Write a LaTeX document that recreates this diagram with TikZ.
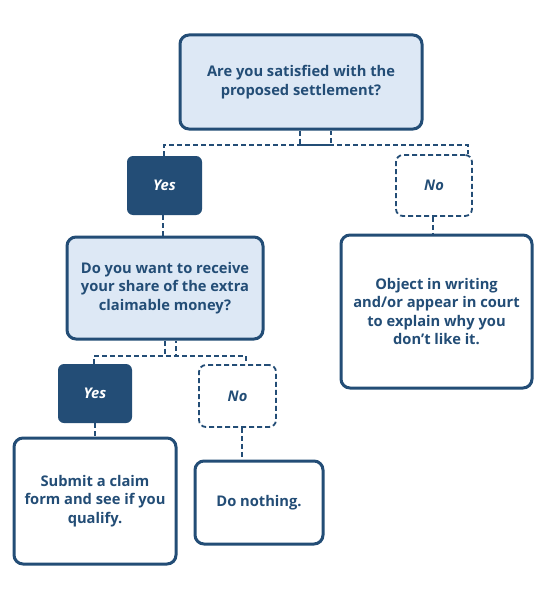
\documentclass[tikz,border=0pt]{standalone}
\usepackage{fontspec}
\setmainfont{Open Sans}
\definecolor{navy}{HTML}{234D76}
\definecolor{pale}{HTML}{DDE8F5}
\begin{document}
\begin{tikzpicture}[x=1pt,y=-1pt,
  every node/.style={font=\fontsize{14.7}{18.3}\selectfont\bfseries, text=navy, align=center, inner sep=0pt},
  qbox/.style={draw=navy, line width=3pt, fill=pale, rounded corners=9pt},
  abox/.style={draw=navy, line width=3pt, fill=white, rounded corners=9pt},
  yesbox/.style={fill=navy, rounded corners=6pt, text=white, font=\fontsize{14.7}{18.3}\selectfont\bfseries\itshape},
  nobox/.style={draw=navy, line width=1.8pt, dash pattern=on 5pt off 3pt, fill=white, rounded corners=7pt, font=\fontsize{14.7}{18.3}\selectfont\bfseries\itshape},
  link/.style={draw=navy, line width=1.8pt, dash pattern=on 5pt off 3pt}
]
\useasboundingbox (0,0) rectangle (551,599);
\fill[white] (0,0) rectangle (551,599);

\node[qbox, minimum width=242pt, minimum height=94pt] (q1) at (301,82) {Are you satisfied with the\\proposed settlement?};
\node[yesbox, minimum width=75pt, minimum height=59pt] (yes1) at (164.5,185.5) {Yes};
\node[nobox, minimum width=76pt, minimum height=61pt] (no1) at (434,185.5) {No};
\node[abox, minimum width=191pt, minimum height=153pt] (obj) at (436.5,311.5) {Object in writing\\and/or appear in court\\to explain why you\\don{\char"27}t like it.};
\node[qbox, minimum width=196pt, minimum height=102pt] (q2) at (165,288) {Do you want to receive\\your share of the extra\\claimable money?};
\node[yesbox, minimum width=74pt, minimum height=59pt] (yes2) at (95,393.5) {Yes};
\node[nobox, minimum width=77pt, minimum height=62pt] (no2) at (237.5,396) {No};
\node[abox, minimum width=162pt, minimum height=126pt] (sub) at (95,501) {Submit a claim\\form and see if you\\qualify.};
\node[abox, minimum width=128pt, minimum height=83pt] (dn) at (259,502.5) {Do nothing.};

% top split
\coordinate (a1) at (300,145);
\coordinate (a2) at (331,145);
\coordinate (aL) at (164,145);
\coordinate (aR) at (468,145);
\draw[link] (q1.south -| a1) -- (a1) -- (a2) -- (q1.south -| a2);
\draw[link] (aL |- yes1.north) -- (aL) -- (aR) -- (aR |- no1.north);
\draw[link] ([xshift=-1.5pt]yes1.south) -- ([xshift=-1.5pt]yes1.south |- q2.north);
\draw[link] ([xshift=-1pt]no1.south) -- ([xshift=-1pt]no1.south |- obj.north);

% second split
\coordinate (b1) at (165,356);
\coordinate (b2) at (176,356);
\coordinate (bL) at (94,356);
\coordinate (bR) at (246,356);
\draw[link] (q2.south -| b1) -- (b1) -- (b2) -- (q2.south -| b2);
\draw[link] (bL |- yes2.north) -- (bL) -- (bR) -- (bR |- no2.north);
\draw[link] (yes2.south) -- (yes2.south |- sub.north);
\coordinate (c2) at (242,430);
\draw[link] (c2 |- no2.south) -- (c2 |- dn.north);
\end{tikzpicture}
\end{document}
